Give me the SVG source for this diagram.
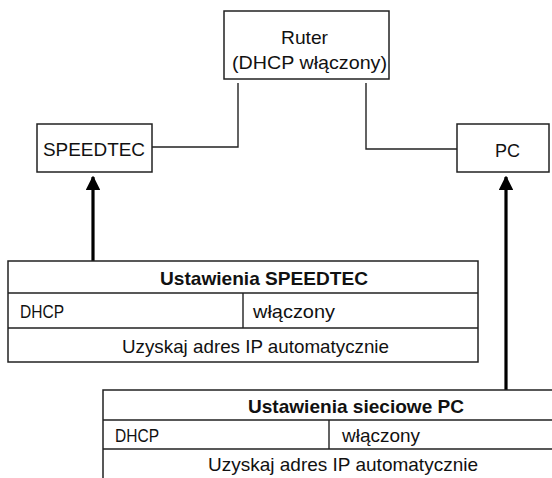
<svg xmlns="http://www.w3.org/2000/svg" width="552" height="478" viewBox="0 0 552 478">
<defs>
<style>
.box{fill:#fff;stroke:#222;stroke-width:1.5}
.ln{fill:none;stroke:#222;stroke-width:1.4}
.arr{fill:none;stroke:#000;stroke-width:3.2}
.t{font-family:"Liberation Sans",Arial,sans-serif;font-size:19px;fill:#111}
.b{font-weight:bold}
</style>
<marker id="ah" viewBox="0 0 10 10" refX="9" refY="5" markerWidth="4.5" markerHeight="4.5" orient="auto" markerUnits="strokeWidth">
<path d="M0,0 L10,5 L0,10 z" fill="#000"/>
</marker>
</defs>
<rect width="552" height="478" fill="#fff"/>
<g id="connectors">
<path class="ln" d="M238,83 V147 H152"/>
<path class="ln" d="M366,83 V149 H457"/>
<path class="arr" d="M93,261 V177" marker-end="url(#ah)"/>
<path class="arr" d="M506,390 V177" marker-end="url(#ah)"/>
</g>
<g id="ruter">
<rect class="box" x="224" y="11" width="165" height="68"/>
<text class="t" x="281" y="44" textLength="47" lengthAdjust="spacingAndGlyphs">Ruter</text>
<text class="t" x="232" y="69" textLength="155" lengthAdjust="spacingAndGlyphs">(DHCP włączony)</text>
</g>
<g id="speedtec">
<rect class="box" x="37" y="124" width="115" height="48"/>
<text class="t" x="43" y="156" textLength="102" lengthAdjust="spacingAndGlyphs">SPEEDTEC</text>
</g>
<g id="pc">
<rect class="box" x="457" y="124" width="92" height="48"/>
<text class="t" x="495" y="157" textLength="25" lengthAdjust="spacingAndGlyphs">PC</text>
</g>
<g id="ustawienia-speedtec">
<rect class="box" x="8" y="261" width="470" height="101"/>
<path class="ln" d="M8,293 H478 M8,328 H478 M243,293 V328"/>
<text class="t b" x="160" y="285" textLength="208" lengthAdjust="spacingAndGlyphs">Ustawienia SPEEDTEC</text>
<text class="t" x="20" y="318" textLength="44" lengthAdjust="spacingAndGlyphs">DHCP</text>
<text class="t" x="253" y="318" textLength="82" lengthAdjust="spacingAndGlyphs">włączony</text>
<text class="t" x="122" y="353" textLength="267" lengthAdjust="spacingAndGlyphs">Uzyskaj adres IP automatycznie</text>
</g>
<g id="ustawienia-pc">
<rect class="box" x="103" y="390" width="470" height="100"/>
<path class="ln" d="M103,420 H573 M103,449 H573 M329,420 V449"/>
<text class="t b" x="248" y="413" textLength="216" lengthAdjust="spacingAndGlyphs">Ustawienia sieciowe PC</text>
<text class="t" x="115" y="442" textLength="44" lengthAdjust="spacingAndGlyphs">DHCP</text>
<text class="t" x="342" y="442" textLength="78" lengthAdjust="spacingAndGlyphs">włączony</text>
<text class="t" x="208" y="471" textLength="270" lengthAdjust="spacingAndGlyphs">Uzyskaj adres IP automatycznie</text>
</g>
</svg>
